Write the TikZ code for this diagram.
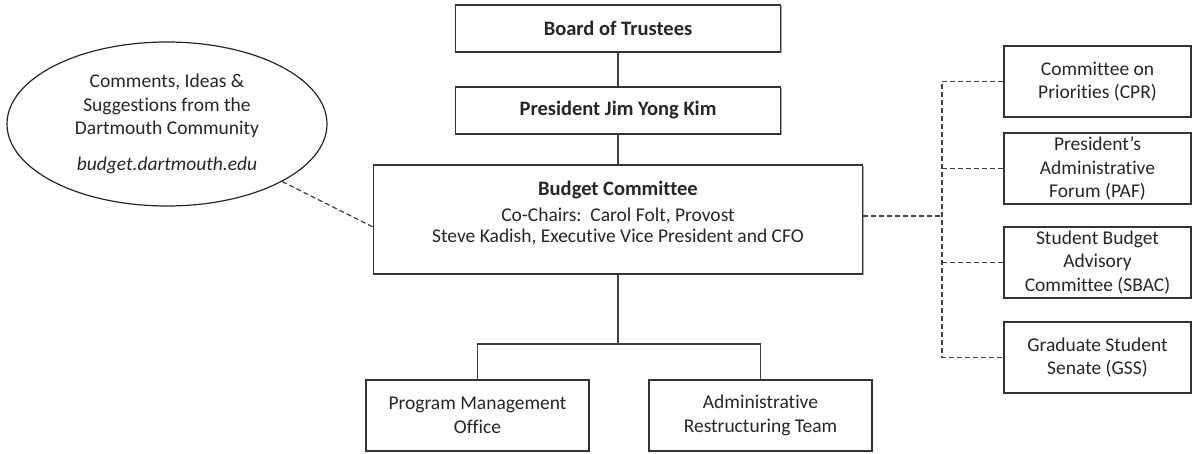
\documentclass[tikz,border=0pt]{standalone}
\usepackage{fontspec}
\setmainfont{Carlito}[Ligatures=NoCommon]
\usetikzlibrary{shapes.geometric,shadows}
\begin{document}
\begin{tikzpicture}[x=1pt,y=-1pt,
  font=\fontsize{19.5}{23.5}\selectfont,
  ttl/.style={font=\fontsize{20.5}{24}\selectfont\bfseries},
  box/.style={draw=black!80, line width=1.3pt, fill=white, align=center, text=black!85,
    inner sep=2pt,
    drop shadow={shadow xshift=1.3pt, shadow yshift=-1.3pt, opacity=0.35, fill=black}},
  conn/.style={draw=black!75, line width=1.3pt},
  dsh/.style={draw=black!75, line width=1.3pt, dash pattern=on 5pt off 3pt}]
\useasboundingbox (0,0) rectangle (1193,453);

\node[box, ttl, minimum width=325, minimum height=47] (bot) at (618,28.5) {Board of Trustees};
\node[box, ttl, minimum width=325, minimum height=47] (pres) at (618,110.5) {President Jim Yong Kim};
\node[box, minimum width=489, minimum height=109] (bc) at (618,219.5)
  {{\fontsize{20.5}{24}\selectfont\bfseries Budget Committee}\\[2pt] Co-Chairs:\ \ Carol Folt, Provost\\[-2pt] Steve Kadish, Executive Vice President and CFO\\[-9pt]\mbox{}};
\node[box, minimum width=223, minimum height=71] (pmo) at (477.5,415.5) {Program Management\\ Office};
\node[box, minimum width=223, minimum height=71] (art) at (760.5,415.5) {Administrative\\ Restructuring Team};

\node[box, minimum width=187, minimum height=71] (cpr) at (1097.5,81.5) {Committee on\\ Priorities (CPR)};
\node[box, minimum width=187, minimum height=71] (paf) at (1097.5,168.5) {President's\\ Administrative\\ Forum (PAF)};
\node[box, minimum width=187, minimum height=71] (sbac) at (1097.5,262.5) {Student Budget\\ Advisory\\ Committee (SBAC)};
\node[box, minimum width=187, minimum height=71] (gss) at (1097.5,357.5) {Graduate Student\\ Senate (GSS)};

\node[ellipse, draw=black!85, line width=1.2pt, minimum width=320, minimum height=164, align=center, text=black!85, inner sep=0pt] (ell) at (167,124)
  {Comments, Ideas \&\\ Suggestions from the\\ Dartmouth Community\\[12pt] \textit{budget.dartmouth.edu}};

% solid connectors
\draw[conn] (bot) -- (pres);
\draw[conn] (pres) -- (bc);
\coordinate (bus) at (618,344);
\draw[conn] (bc.south) -- (bus);
\draw[conn] (pmo.north) |- (bus) -| (art.north);

% dashed connectors
\coordinate (jn) at (942,216);
\coordinate (ellT) at (373,227);
\draw[dsh] (ell) -- (ellT);
\draw[dsh] ([yshift=3.5pt]bc.east) -- (jn);
\draw[dsh] (cpr.west) -| (jn |- gss.west) -- (gss.west);
\draw[dsh] (jn |- paf.west) -- (paf.west);
\draw[dsh] (jn |- sbac.west) -- (sbac.west);
\end{tikzpicture}
\end{document}
